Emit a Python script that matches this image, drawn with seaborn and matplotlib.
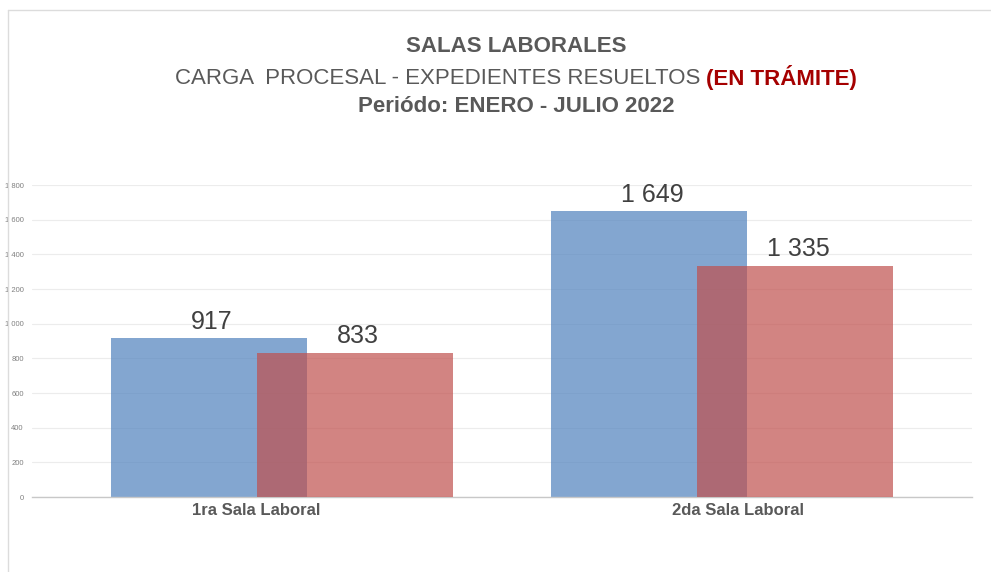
import pandas as pd
import seaborn as sns
import matplotlib.pyplot as plt
from matplotlib.lines import Line2D
from matplotlib.transforms import ScaledTranslation

salas = ['1ra Sala Laboral', '2da Sala Laboral']
carga = [917, 1649]       # blue series
resueltos = [833, 1335]   # red series
y_ticks = [0, 200, 400, 600, 800, 1000, 1200, 1400, 1600, 1800]

sns.set_style('white')
plt.rcParams['font.family'] = ['Liberation Sans', 'DejaVu Sans']

fig = plt.figure(figsize=(9.91, 5.72), dpi=100)
ax = fig.add_axes([32 / 991, 1 - 497 / 572, 940 / 991, 312 / 572])

bw = 0.445
shift = 0.166
df_a = pd.DataFrame({'Sala': salas, 'Valor': carga})
df_b = pd.DataFrame({'Sala': salas, 'Valor': resueltos})

sns.barplot(data=df_a, x='Sala', y='Valor', color='#4F81BD', alpha=0.7,
            width=bw, saturation=1, linewidth=0, ax=ax, zorder=2)
n_a = len(ax.patches)
sns.barplot(data=df_b, x='Sala', y='Valor', color='#C0504D', alpha=0.7,
            width=bw, saturation=1, linewidth=0, ax=ax, zorder=3)

for i, p in enumerate(ax.patches):
    d = -shift if i < n_a else shift
    p.set_x(p.get_x() + d)
    p.set_edgecolor('none')
    v = int(round(p.get_height()))
    ax.text(p.get_x() + p.get_width() / 2 + 3 / 440, v + 25, f'{v:,}'.replace(',', ' '),
            ha='center', va='bottom', fontsize=18, color='#404040', clip_on=False)

ax.set_xlim(-0.568, 1.568)
ax.set_ylim(0, 1800)
ax.set_yticks(y_ticks)
ax.set_yticklabels([f'{t:,}'.replace(',', ' ') for t in y_ticks], fontsize=5.5, color='#808080')
ax.tick_params(axis='y', length=0, pad=6)
ax.tick_params(axis='x', length=0, pad=4)
# category labels sit slightly off the group centres in the original
offsets = [-26, 16]
for lbl, off in zip(ax.get_xticklabels(), offsets):
    lbl.set_fontsize(12)
    lbl.set_fontweight('bold')
    lbl.set_color('#595959')
    lbl.set_transform(lbl.get_transform() + ScaledTranslation(off / 100, 0, fig.dpi_scale_trans))
ax.set_xlabel('')
ax.set_ylabel('')
ax.grid(axis='y', color='#ececec', linewidth=0.8, zorder=0)
ax.set_axisbelow(True)
for s in ['top', 'right', 'left']:
    ax.spines[s].set_visible(False)
ax.spines['bottom'].set_color('#c8c8c8')
ax.spines['bottom'].set_linewidth(1)

# outer frame
fig.add_artist(Line2D([8 / 991, 8 / 991], [0, 1 - 10 / 572], color='#dcdcdc', lw=1))
fig.add_artist(Line2D([8 / 991, 1], [1 - 10 / 572, 1 - 10 / 572], color='#dcdcdc', lw=1))

# titles
grey = '#595959'
cx = 516 / 991
fig.text(cx, 1 - 47 / 572, 'SALAS LABORALES', ha='center', va='center',
         fontsize=16, fontweight='bold', color=grey)
fig.text(cx, 1 - 107 / 572, 'Periódo: ENERO - JULIO 2022', ha='center', va='center',
         fontsize=16, fontweight='bold', color=grey)

t1 = fig.text(0, 1 - 78 / 572, 'CARGA  PROCESAL - EXPEDIENTES RESUELTOS ', ha='left',
              va='center', fontsize=16, color=grey)
t2 = fig.text(0, 1 - 78 / 572, '(EN TRÁMITE)', ha='left', va='center',
              fontsize=16, fontweight='bold', color='#A50000')
fig.canvas.draw()
r = fig.canvas.get_renderer()
w1 = t1.get_window_extent(r).width / fig.bbox.width
w2 = t2.get_window_extent(r).width / fig.bbox.width
x0 = cx - (w1 + w2) / 2
t1.set_x(x0)
t2.set_x(x0 + w1)

fig.savefig('out.png', dpi=100)
